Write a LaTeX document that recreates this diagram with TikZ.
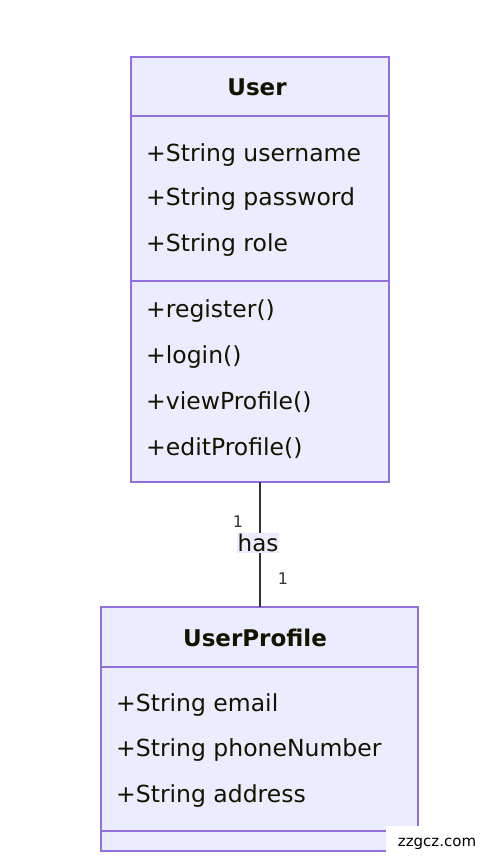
\documentclass[tikz,border=0pt]{standalone}
\usepackage{fontspec}
\setmainfont{DejaVu Sans}
\definecolor{boxfill}{HTML}{ECECFF}
\definecolor{boxline}{HTML}{9370DB}
\definecolor{txt}{HTML}{131300}
\definecolor{edge}{HTML}{333333}
\begin{document}
\begin{tikzpicture}[x=1pt,y=-1pt,
  classbox/.style={draw=boxline,fill=boxfill,line width=1.3pt},
  sep/.style={draw=boxline,line width=1.3pt},
  title/.style={font=\fontsize{23}{26}\selectfont\bfseries,text=txt},
  member/.style={font=\fontsize{23.5}{26}\selectfont,text=txt,anchor=west,inner sep=0pt},
  mult/.style={font=\fontsize{16}{18}\selectfont,text=edge,inner sep=0pt},
  lbl/.style={font=\fontsize{23}{26}\selectfont,text=txt,fill=boxfill,inner sep=1pt}]
\useasboundingbox (0,0) rectangle (488,862);
% User class
\path[classbox] (131,57) rectangle (389,482);
\coordinate (userbot) at (260,482);
\draw[sep] (131,116) -- (389,116);
\draw[sep] (131,281) -- (389,281);
\node[title] (ut) at (257,87) {User};
\node[member] (u1) at (146,155) {+String username};
\node[member] (u2) at (146,199) {+String password};
\node[member] (u3) at (146,245) {+String role};
\node[member] (m1) at (146,311) {+register()};
\node[member] (m2) at (146,357) {+login()};
\node[member] (m3) at (146,402) {+viewProfile()};
\node[member] (m4) at (146,448) {+editProfile()};
% UserProfile class
\path[classbox] (101,607) rectangle (418,851);
\coordinate (proftop) at (260,607);
\draw[sep] (101,667) -- (418,667);
\draw[sep] (101,831) -- (418,831);
\node[title] (pt) at (255,638) {UserProfile};
\node[member] (p1) at (116,705) {+String email};
\node[member] (p2) at (116,750) {+String phoneNumber};
\node[member] (p3) at (116,796) {+String address};
% association
\draw[edge,line width=1.3pt] (userbot) -- (proftop);
\node[lbl] (has) at (258,543) {has};
\node[mult] (m1a) at (238,522) {1};
\node[mult] (m1b) at (283,579) {1};
% watermark
\node[fill=white,rounded corners=2pt,minimum width=102pt,minimum height=36pt,font=\fontsize{15}{17}\selectfont,text=black] (wm) at (437,844) {zzgcz.com};
\end{tikzpicture}
\end{document}
